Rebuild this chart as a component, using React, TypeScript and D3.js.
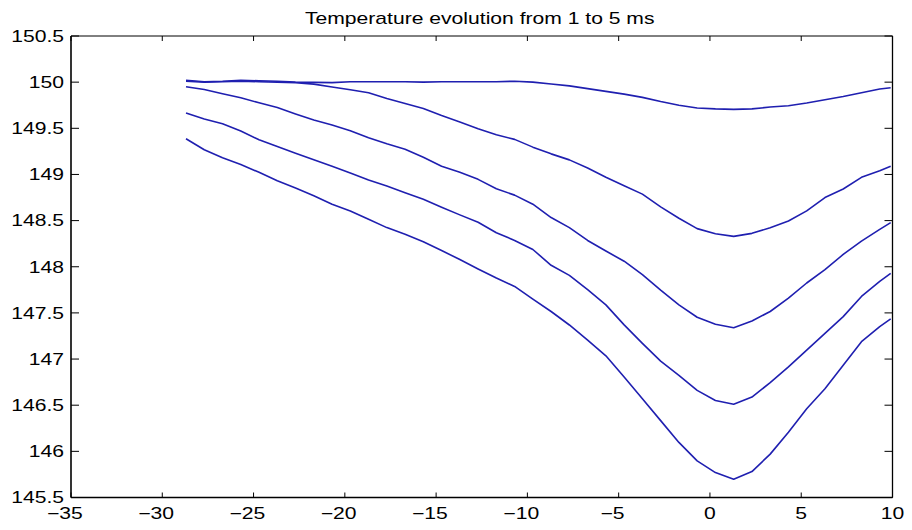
import React from "react";
import * as d3 from "d3";

const chartTitle = "Temperature evolution from 1 to 5 ms";
const xTicks = [-35, -30, -25, -20, -15, -10, -5, 0, 5, 10];
const yTicks = [145.5, 146, 146.5, 147, 147.5, 148, 148.5, 149, 149.5, 150, 150.5];

const xValues = [
  -28.7, -27.7, -26.7, -25.7, -24.7, -23.7, -22.7, -21.7, -20.7, -19.7,
  -18.7, -17.7, -16.7, -15.7, -14.7, -13.7, -12.7, -11.7, -10.7, -9.7,
  -8.7, -7.7, -6.7, -5.7, -4.7, -3.7, -2.7, -1.7, -0.7, 0.3,
  1.3, 2.3, 3.3, 4.3, 5.3, 6.3, 7.3, 8.3, 9.3, 9.9,
];

const t1ms = [
  150.02, 150.005, 150.01, 150.02, 150.015, 150.01, 150.0, 149.998, 149.995, 150.005,
  150.005, 150.005, 150.005, 150.0, 150.005, 150.005, 150.005, 150.005, 150.01, 150.0,
  149.98, 149.96, 149.93, 149.9, 149.87, 149.835, 149.79, 149.75, 149.72, 149.71,
  149.705, 149.71, 149.73, 149.745, 149.775, 149.81, 149.845, 149.885, 149.925, 149.94,
];
const t2ms = [
  150.01, 150.0, 150.005, 150.01, 150.005, 150.0, 149.994, 149.979, 149.947, 149.917,
  149.885, 149.823, 149.768, 149.714, 149.638, 149.569, 149.496, 149.43, 149.38, 149.296,
  149.223, 149.158, 149.07, 148.97, 148.878, 148.787, 148.649, 148.525, 148.413, 148.358,
  148.329, 148.362, 148.423, 148.496, 148.605, 148.75, 148.842, 148.969, 149.041, 149.089,
];
const t3ms = [
  149.95, 149.921, 149.874, 149.83, 149.776, 149.725, 149.656, 149.59, 149.536, 149.474,
  149.398, 149.332, 149.274, 149.187, 149.089, 149.023, 148.947, 148.845, 148.776, 148.678,
  148.533, 148.424, 148.285, 148.17, 148.06, 147.915, 147.747, 147.587, 147.453, 147.377,
  147.34, 147.413, 147.515, 147.66, 147.824, 147.969, 148.133, 148.278, 148.405, 148.478,
];
const t4ms = [
  149.667, 149.601, 149.55, 149.47, 149.376, 149.303, 149.231, 149.158, 149.089, 149.016,
  148.94, 148.874, 148.802, 148.732, 148.645, 148.562, 148.482, 148.369, 148.285, 148.187,
  148.016, 147.907, 147.751, 147.587, 147.37, 147.17, 146.977, 146.824, 146.661, 146.551,
  146.511, 146.588, 146.744, 146.915, 147.097, 147.279, 147.46, 147.678, 147.842, 147.929,
];
const t5ms = [
  149.387, 149.267, 149.18, 149.107, 149.023, 148.932, 148.852, 148.769, 148.678, 148.605,
  148.514, 148.424, 148.351, 148.271, 148.176, 148.078, 147.976, 147.878, 147.787, 147.649,
  147.515, 147.369, 147.206, 147.035, 146.806, 146.57, 146.333, 146.097, 145.897, 145.77,
  145.697, 145.781, 145.97, 146.206, 146.461, 146.679, 146.933, 147.188, 147.351, 147.435,
];

const seriesList = [t1ms, t2ms, t3ms, t4ms, t5ms];

const W = 912;
const H = 530;
const M = { left: 71, right: 892.5, top: 36, bottom: 497.5 };
const FONT = "'Liberation Sans', Arial, Helvetica, sans-serif";
const FS = 16;
const SX = 1.32;
const LINE_COLOR = "#1f1fb0";

function fmt(v: number): string {
  const s = String(v);
  return v < 0 ? "\u2212" + s.slice(1) : s;
}

export default function App() {
  const x = d3.scaleLinear().domain([-35, 10]).range([M.left, M.right]);
  const y = d3.scaleLinear().domain([145.5, 150.5]).range([M.bottom, M.top]);
  const line = d3
    .line<number>()
    .x((_, i) => x(xValues[i]))
    .y((d) => y(d));

  const minusHalf = (0.584 * FS * SX) / 2;

  return (
    <svg
      width={W}
      height={H}
      style={{ position: "absolute", left: 0, top: 0, background: "#fff" }}
      fontFamily={FONT}
    >
      <rect x={0} y={0} width={W} height={H} fill="#fff" />
      {/* title */}
      <text
        transform={`translate(${(M.left + M.right) / 2 - 2},24) scale(${SX},1)`}
        textAnchor="middle"
        fontSize={FS}
        fill="#000"
      >
        {chartTitle}
      </text>

      {/* series */}
      <g fill="none" stroke={LINE_COLOR} strokeWidth={1.6} strokeLinejoin="round">
        {seriesList.map((s, i) => (
          <path key={i} d={line(s) || ""} />
        ))}
      </g>

      {/* axes box */}
      <g stroke="#000" fill="none">
        <line x1={M.left} x2={M.right} y1={M.top} y2={M.top} strokeWidth={1} />
        <line x1={M.right} x2={M.right} y1={M.top} y2={M.bottom} strokeWidth={1.3} />
        <line x1={M.left} x2={M.left} y1={M.top} y2={M.bottom} strokeWidth={1.6} />
        <line x1={M.left} x2={M.right} y1={M.bottom} y2={M.bottom} strokeWidth={1.6} />
      </g>

      {/* ticks */}
      <g stroke="#000" strokeWidth={1}>
        {xTicks.map((t) => (
          <g key={t}>
            <line x1={x(t)} x2={x(t)} y1={M.bottom} y2={M.bottom - 5} />
            <line x1={x(t)} x2={x(t)} y1={M.top} y2={M.top + 5} />
          </g>
        ))}
        {yTicks.map((t) => (
          <g key={t}>
            <line x1={M.left} x2={M.left + 8} y1={y(t)} y2={y(t)} />
            <line x1={M.right} x2={M.right - 8} y1={y(t)} y2={y(t)} />
          </g>
        ))}
      </g>

      {/* x tick labels */}
      <g fontSize={FS} fill="#000">
        {xTicks.map((t) => (
          <text
            key={t}
            transform={`translate(${x(t) - (t < 0 ? minusHalf : 0)},519) scale(${SX},1)`}
            textAnchor="middle"
          >
            {fmt(t)}
          </text>
        ))}
      </g>

      {/* y tick labels */}
      <g fontSize={FS} fill="#000">
        {yTicks.map((t) => (
          <text
            key={t}
            transform={`translate(64,${y(t) + 5.8}) scale(${SX},1)`}
            textAnchor="end"
          >
            {fmt(t)}
          </text>
        ))}
      </g>
    </svg>
  );
}
